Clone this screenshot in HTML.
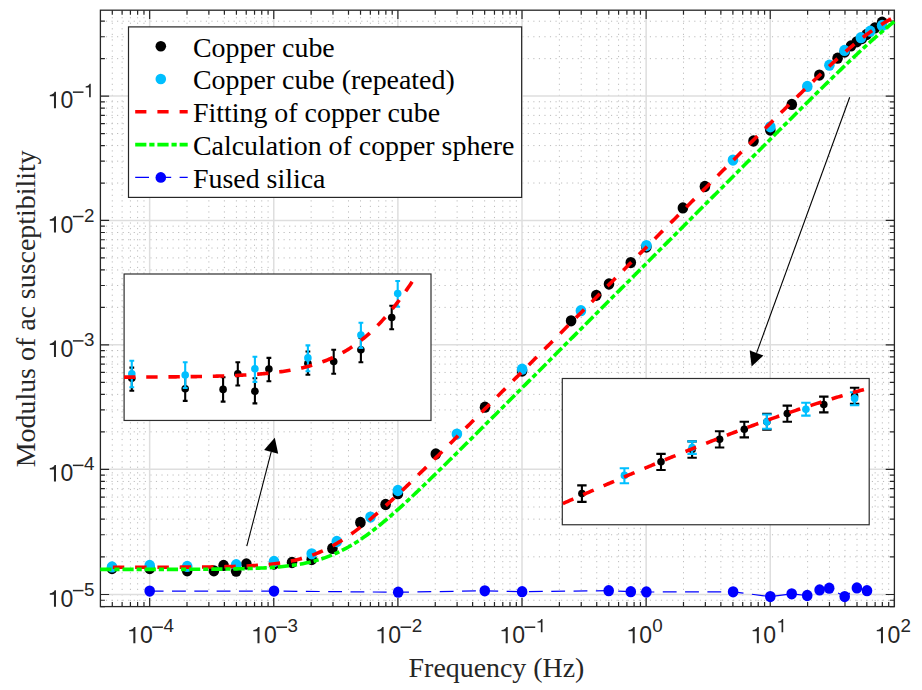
<!DOCTYPE html>
<html><head><meta charset="utf-8"><title>Modulus of ac susceptibility</title>
<style>html,body{margin:0;padding:0;background:#fff}svg{display:block}.sa{font-family:"Liberation Sans",sans-serif}.se{font-family:"Liberation Serif",serif}</style>
</head><body>
<svg width="922" height="690" viewBox="0 0 922 690">
<rect width="922" height="690" fill="#fff"/>
<path d="M112.29 606.60V10.20M122.11 606.60V10.20M130.42 606.60V10.20M137.62 606.60V10.20M143.97 606.60V10.20M187.01 606.60V10.20M208.87 606.60V10.20M224.38 606.60V10.20M236.41 606.60V10.20M246.23 606.60V10.20M254.54 606.60V10.20M261.74 606.60V10.20M268.09 606.60V10.20M311.13 606.60V10.20M332.99 606.60V10.20M348.50 606.60V10.20M360.53 606.60V10.20M370.35 606.60V10.20M378.66 606.60V10.20M385.86 606.60V10.20M392.21 606.60V10.20M435.25 606.60V10.20M457.11 606.60V10.20M472.62 606.60V10.20M484.65 606.60V10.20M494.47 606.60V10.20M502.78 606.60V10.20M509.98 606.60V10.20M516.33 606.60V10.20M559.37 606.60V10.20M581.23 606.60V10.20M596.74 606.60V10.20M608.77 606.60V10.20M618.59 606.60V10.20M626.90 606.60V10.20M634.10 606.60V10.20M640.45 606.60V10.20M683.49 606.60V10.20M705.35 606.60V10.20M720.86 606.60V10.20M732.89 606.60V10.20M742.71 606.60V10.20M751.02 606.60V10.20M758.22 606.60V10.20M764.57 606.60V10.20M807.61 606.60V10.20M829.47 606.60V10.20M844.98 606.60V10.20M857.01 606.60V10.20M866.83 606.60V10.20M875.14 606.60V10.20M882.34 606.60V10.20M888.69 606.60V10.20M100.40 600.25H894.40M100.40 556.83H894.40M100.40 534.77H894.40M100.40 519.13H894.40M100.40 506.99H894.40M100.40 497.08H894.40M100.40 488.70H894.40M100.40 481.44H894.40M100.40 475.03H894.40M100.40 431.83H894.40M100.40 409.91H894.40M100.40 394.36H894.40M100.40 382.30H894.40M100.40 372.44H894.40M100.40 364.11H894.40M100.40 356.89H894.40M100.40 350.53H894.40M100.40 307.39H894.40M100.40 285.50H894.40M100.40 269.96H894.40M100.40 257.91H894.40M100.40 248.06H894.40M100.40 239.73H894.40M100.40 232.52H894.40M100.40 226.16H894.40M100.40 183.03H894.40M100.40 161.13H894.40M100.40 145.59H894.40M100.40 133.53H894.40M100.40 123.68H894.40M100.40 115.36H894.40M100.40 108.14H894.40M100.40 101.78H894.40M100.40 58.65H894.40M100.40 36.75H894.40M100.40 21.21H894.40" stroke="#bababa" stroke-width="1" stroke-dasharray="1.15 4.4" fill="none"/>
<path d="M149.65 606.60V10.20M273.77 606.60V10.20M397.89 606.60V10.20M522.01 606.60V10.20M646.13 606.60V10.20M770.25 606.60V10.20M100.40 594.52H894.40M100.40 469.30H894.40M100.40 344.83H894.40M100.40 220.47H894.40M100.40 96.09H894.40" stroke="#dedede" stroke-width="1.5" fill="none"/>
<path d="M112.29 606.60v-4.5M112.29 10.20v4.5M122.11 606.60v-4.5M122.11 10.20v4.5M130.42 606.60v-4.5M130.42 10.20v4.5M137.62 606.60v-4.5M137.62 10.20v4.5M143.97 606.60v-4.5M143.97 10.20v4.5M149.65 606.60v-8.7M149.65 10.20v8.7M187.01 606.60v-4.5M187.01 10.20v4.5M208.87 606.60v-4.5M208.87 10.20v4.5M224.38 606.60v-4.5M224.38 10.20v4.5M236.41 606.60v-4.5M236.41 10.20v4.5M246.23 606.60v-4.5M246.23 10.20v4.5M254.54 606.60v-4.5M254.54 10.20v4.5M261.74 606.60v-4.5M261.74 10.20v4.5M268.09 606.60v-4.5M268.09 10.20v4.5M273.77 606.60v-8.7M273.77 10.20v8.7M311.13 606.60v-4.5M311.13 10.20v4.5M332.99 606.60v-4.5M332.99 10.20v4.5M348.50 606.60v-4.5M348.50 10.20v4.5M360.53 606.60v-4.5M360.53 10.20v4.5M370.35 606.60v-4.5M370.35 10.20v4.5M378.66 606.60v-4.5M378.66 10.20v4.5M385.86 606.60v-4.5M385.86 10.20v4.5M392.21 606.60v-4.5M392.21 10.20v4.5M397.89 606.60v-8.7M397.89 10.20v8.7M435.25 606.60v-4.5M435.25 10.20v4.5M457.11 606.60v-4.5M457.11 10.20v4.5M472.62 606.60v-4.5M472.62 10.20v4.5M484.65 606.60v-4.5M484.65 10.20v4.5M494.47 606.60v-4.5M494.47 10.20v4.5M502.78 606.60v-4.5M502.78 10.20v4.5M509.98 606.60v-4.5M509.98 10.20v4.5M516.33 606.60v-4.5M516.33 10.20v4.5M522.01 606.60v-8.7M522.01 10.20v8.7M559.37 606.60v-4.5M559.37 10.20v4.5M581.23 606.60v-4.5M581.23 10.20v4.5M596.74 606.60v-4.5M596.74 10.20v4.5M608.77 606.60v-4.5M608.77 10.20v4.5M618.59 606.60v-4.5M618.59 10.20v4.5M626.90 606.60v-4.5M626.90 10.20v4.5M634.10 606.60v-4.5M634.10 10.20v4.5M640.45 606.60v-4.5M640.45 10.20v4.5M646.13 606.60v-8.7M646.13 10.20v8.7M683.49 606.60v-4.5M683.49 10.20v4.5M705.35 606.60v-4.5M705.35 10.20v4.5M720.86 606.60v-4.5M720.86 10.20v4.5M732.89 606.60v-4.5M732.89 10.20v4.5M742.71 606.60v-4.5M742.71 10.20v4.5M751.02 606.60v-4.5M751.02 10.20v4.5M758.22 606.60v-4.5M758.22 10.20v4.5M764.57 606.60v-4.5M764.57 10.20v4.5M770.25 606.60v-8.7M770.25 10.20v8.7M807.61 606.60v-4.5M807.61 10.20v4.5M829.47 606.60v-4.5M829.47 10.20v4.5M844.98 606.60v-4.5M844.98 10.20v4.5M857.01 606.60v-4.5M857.01 10.20v4.5M866.83 606.60v-4.5M866.83 10.20v4.5M875.14 606.60v-4.5M875.14 10.20v4.5M882.34 606.60v-4.5M882.34 10.20v4.5M888.69 606.60v-4.5M888.69 10.20v4.5M894.37 606.60v-8.7M894.37 10.20v8.7M100.40 606.66h4.5M894.40 606.66h-4.5M100.40 600.25h4.5M894.40 600.25h-4.5M100.40 594.52h8.7M894.40 594.52h-8.7M100.40 556.83h4.5M894.40 556.83h-4.5M100.40 534.77h4.5M894.40 534.77h-4.5M100.40 519.13h4.5M894.40 519.13h-4.5M100.40 506.99h4.5M894.40 506.99h-4.5M100.40 497.08h4.5M894.40 497.08h-4.5M100.40 488.70h4.5M894.40 488.70h-4.5M100.40 481.44h4.5M894.40 481.44h-4.5M100.40 475.03h4.5M894.40 475.03h-4.5M100.40 469.30h8.7M894.40 469.30h-8.7M100.40 431.83h4.5M894.40 431.83h-4.5M100.40 409.91h4.5M894.40 409.91h-4.5M100.40 394.36h4.5M894.40 394.36h-4.5M100.40 382.30h4.5M894.40 382.30h-4.5M100.40 372.44h4.5M894.40 372.44h-4.5M100.40 364.11h4.5M894.40 364.11h-4.5M100.40 356.89h4.5M894.40 356.89h-4.5M100.40 350.53h4.5M894.40 350.53h-4.5M100.40 344.83h8.7M894.40 344.83h-8.7M100.40 307.39h4.5M894.40 307.39h-4.5M100.40 285.50h4.5M894.40 285.50h-4.5M100.40 269.96h4.5M894.40 269.96h-4.5M100.40 257.91h4.5M894.40 257.91h-4.5M100.40 248.06h4.5M894.40 248.06h-4.5M100.40 239.73h4.5M894.40 239.73h-4.5M100.40 232.52h4.5M894.40 232.52h-4.5M100.40 226.16h4.5M894.40 226.16h-4.5M100.40 220.47h8.7M894.40 220.47h-8.7M100.40 183.03h4.5M894.40 183.03h-4.5M100.40 161.13h4.5M894.40 161.13h-4.5M100.40 145.59h4.5M894.40 145.59h-4.5M100.40 133.53h4.5M894.40 133.53h-4.5M100.40 123.68h4.5M894.40 123.68h-4.5M100.40 115.36h4.5M894.40 115.36h-4.5M100.40 108.14h4.5M894.40 108.14h-4.5M100.40 101.78h4.5M894.40 101.78h-4.5M100.40 96.09h8.7M894.40 96.09h-8.7M100.40 58.65h4.5M894.40 58.65h-4.5M100.40 36.75h4.5M894.40 36.75h-4.5M100.40 21.21h4.5M894.40 21.21h-4.5" stroke="#262626" stroke-width="1.2" fill="none"/>
<rect x="100.4" y="10.2" width="794.00" height="596.40" fill="none" stroke="#262626" stroke-width="1.3"/>
<path d="M133.35 643.30L133.35 631.34L129.19 631.34L129.19 629.96C131.83 629.73 133.44 628.58 133.97 626.92L135.37 626.92L135.37 643.30Z" fill="#262626"/><text x="139.91" y="643.30" class="sa" font-size="23.0" fill="#262626">0</text><rect x="152.29" y="626.47" width="10.6" height="1.5" fill="#262626"/><text x="163.39" y="632.30" class="sa" font-size="18.8" fill="#262626">4</text>
<path d="M257.47 643.30L257.47 631.34L253.31 631.34L253.31 629.96C255.95 629.73 257.56 628.58 258.09 626.92L259.49 626.92L259.49 643.30Z" fill="#262626"/><text x="264.02" y="643.30" class="sa" font-size="23.0" fill="#262626">0</text><rect x="276.41" y="626.47" width="10.6" height="1.5" fill="#262626"/><text x="287.51" y="632.30" class="sa" font-size="18.8" fill="#262626">3</text>
<path d="M381.59 643.30L381.59 631.34L377.43 631.34L377.43 629.96C380.07 629.73 381.68 628.58 382.21 626.92L383.61 626.92L383.61 643.30Z" fill="#262626"/><text x="388.14" y="643.30" class="sa" font-size="23.0" fill="#262626">0</text><rect x="400.53" y="626.47" width="10.6" height="1.5" fill="#262626"/><text x="411.63" y="632.30" class="sa" font-size="18.8" fill="#262626">2</text>
<path d="M505.71 643.30L505.71 631.34L501.55 631.34L501.55 629.96C504.19 629.73 505.80 628.58 506.33 626.92L507.73 626.92L507.73 643.30Z" fill="#262626"/><text x="512.26" y="643.30" class="sa" font-size="23.0" fill="#262626">0</text><rect x="524.65" y="626.47" width="10.6" height="1.5" fill="#262626"/><path d="M540.85 632.30L540.85 622.52L537.45 622.52L537.45 621.40C539.61 621.21 540.92 620.27 541.36 618.91L542.50 618.91L542.50 632.30Z" fill="#262626"/>
<path d="M632.70 643.30L632.70 631.34L628.54 631.34L628.54 629.96C631.18 629.73 632.79 628.58 633.32 626.92L634.72 626.92L634.72 643.30Z" fill="#262626"/><text x="639.25" y="643.30" class="sa" font-size="23.0" fill="#262626">0</text><text x="652.34" y="632.30" class="sa" font-size="18.8" fill="#262626">0</text>
<path d="M756.82 643.30L756.82 631.34L752.66 631.34L752.66 629.96C755.30 629.73 756.91 628.58 757.44 626.92L758.84 626.92L758.84 643.30Z" fill="#262626"/><text x="763.37" y="643.30" class="sa" font-size="23.0" fill="#262626">0</text><path d="M781.56 632.30L781.56 622.52L778.15 622.52L778.15 621.40C780.32 621.21 781.63 620.27 782.06 618.91L783.21 618.91L783.21 632.30Z" fill="#262626"/>
<path d="M880.94 643.30L880.94 631.34L876.78 631.34L876.78 629.96C879.42 629.73 881.03 628.58 881.56 626.92L882.96 626.92L882.96 643.30Z" fill="#262626"/><text x="887.49" y="643.30" class="sa" font-size="23.0" fill="#262626">0</text><text x="900.58" y="632.30" class="sa" font-size="18.8" fill="#262626">2</text>
<path d="M53.96 606.67L53.96 594.71L49.79 594.71L49.79 593.33C52.44 593.10 54.05 591.95 54.58 590.29L55.98 590.29L55.98 606.67Z" fill="#262626"/><text x="60.51" y="606.67" class="sa" font-size="23.0" fill="#262626">0</text><rect x="72.90" y="589.84" width="10.6" height="1.5" fill="#262626"/><text x="84.00" y="595.67" class="sa" font-size="18.8" fill="#262626">5</text>
<path d="M53.96 481.45L53.96 469.49L49.79 469.49L49.79 468.11C52.44 467.88 54.05 466.73 54.58 465.07L55.98 465.07L55.98 481.45Z" fill="#262626"/><text x="60.51" y="481.45" class="sa" font-size="23.0" fill="#262626">0</text><rect x="72.90" y="464.62" width="10.6" height="1.5" fill="#262626"/><text x="84.00" y="470.45" class="sa" font-size="18.8" fill="#262626">4</text>
<path d="M53.96 356.98L53.96 345.02L49.79 345.02L49.79 343.64C52.44 343.41 54.05 342.26 54.58 340.60L55.98 340.60L55.98 356.98Z" fill="#262626"/><text x="60.51" y="356.98" class="sa" font-size="23.0" fill="#262626">0</text><rect x="72.90" y="340.15" width="10.6" height="1.5" fill="#262626"/><text x="84.00" y="345.98" class="sa" font-size="18.8" fill="#262626">3</text>
<path d="M53.96 232.62L53.96 220.66L49.79 220.66L49.79 219.28C52.44 219.05 54.05 217.90 54.58 216.24L55.98 216.24L55.98 232.62Z" fill="#262626"/><text x="60.51" y="232.62" class="sa" font-size="23.0" fill="#262626">0</text><rect x="72.90" y="215.79" width="10.6" height="1.5" fill="#262626"/><text x="84.00" y="221.62" class="sa" font-size="18.8" fill="#262626">2</text>
<path d="M53.96 108.24L53.96 96.28L49.79 96.28L49.79 94.90C52.44 94.67 54.05 93.52 54.58 91.86L55.98 91.86L55.98 108.24Z" fill="#262626"/><text x="60.51" y="108.24" class="sa" font-size="23.0" fill="#262626">0</text><rect x="72.90" y="91.41" width="10.6" height="1.5" fill="#262626"/><path d="M89.09 97.24L89.09 87.46L85.69 87.46L85.69 86.34C87.85 86.15 89.17 85.21 89.60 83.85L90.75 83.85L90.75 97.24Z" fill="#262626"/>
<text x="496.5" y="676.5" text-anchor="middle" class="se" font-size="27.9" fill="#262626">Frequency (Hz)</text>
<text transform="translate(34.7 308.8) rotate(-90)" text-anchor="middle" class="se" font-size="27.9" fill="#262626">Modulus of ac susceptibility</text>
<g>
<ellipse cx="112" cy="568.5" rx="5.3" ry="5.65" fill="#000"/>
<ellipse cx="149.7" cy="568.5" rx="5.3" ry="5.65" fill="#000"/>
<ellipse cx="187.2" cy="570.8" rx="5.3" ry="5.65" fill="#000"/>
<ellipse cx="213.9" cy="570.8" rx="5.3" ry="5.65" fill="#000"/>
<ellipse cx="223.6" cy="565.4" rx="5.3" ry="5.65" fill="#000"/>
<ellipse cx="236.2" cy="571.2" rx="5.3" ry="5.65" fill="#000"/>
<ellipse cx="246.4" cy="564" rx="5.3" ry="5.65" fill="#000"/>
<ellipse cx="274" cy="564" rx="5.3" ry="5.65" fill="#000"/>
<ellipse cx="292" cy="562.5" rx="5.3" ry="5.65" fill="#000"/>
<ellipse cx="311.7" cy="559.5" rx="5.3" ry="5.65" fill="#000"/>
<ellipse cx="332.4" cy="548.4" rx="5.3" ry="5.65" fill="#000"/>
<ellipse cx="360.4" cy="522.5" rx="5.3" ry="5.65" fill="#000"/>
<ellipse cx="385.6" cy="504.5" rx="5.3" ry="5.65" fill="#000"/>
<ellipse cx="397.9" cy="493.7" rx="5.3" ry="5.65" fill="#000"/>
<ellipse cx="435.8" cy="454" rx="5.3" ry="5.65" fill="#000"/>
<ellipse cx="485" cy="407.2" rx="5.3" ry="5.65" fill="#000"/>
<ellipse cx="522.1" cy="371" rx="5.3" ry="5.65" fill="#000"/>
<ellipse cx="571.1" cy="320.8" rx="5.3" ry="5.65" fill="#000"/>
<ellipse cx="596.3" cy="295.3" rx="5.3" ry="5.65" fill="#000"/>
<ellipse cx="609" cy="284" rx="5.3" ry="5.65" fill="#000"/>
<ellipse cx="630.8" cy="262.6" rx="5.3" ry="5.65" fill="#000"/>
<ellipse cx="646.4" cy="247" rx="5.3" ry="5.65" fill="#000"/>
<ellipse cx="682.9" cy="207.9" rx="5.3" ry="5.65" fill="#000"/>
<ellipse cx="704.9" cy="186.5" rx="5.3" ry="5.65" fill="#000"/>
<ellipse cx="753.5" cy="141" rx="5.3" ry="5.65" fill="#000"/>
<ellipse cx="770.3" cy="130" rx="5.3" ry="5.65" fill="#000"/>
<ellipse cx="791.8" cy="104.4" rx="5.3" ry="5.65" fill="#000"/>
<ellipse cx="819.4" cy="75.1" rx="5.3" ry="5.65" fill="#000"/>
<ellipse cx="837.6" cy="58.2" rx="5.3" ry="5.65" fill="#000"/>
<ellipse cx="844.7" cy="52" rx="5.3" ry="5.65" fill="#000"/>
<ellipse cx="851" cy="45.9" rx="5.3" ry="5.65" fill="#000"/>
<ellipse cx="856.8" cy="41.8" rx="5.3" ry="5.65" fill="#000"/>
<ellipse cx="861.9" cy="38.5" rx="5.3" ry="5.65" fill="#000"/>
<ellipse cx="866.6" cy="34.5" rx="5.3" ry="5.65" fill="#000"/>
<ellipse cx="874.8" cy="27.9" rx="5.3" ry="5.65" fill="#000"/>
<ellipse cx="882.1" cy="22.2" rx="5.3" ry="5.65" fill="#000"/>
<ellipse cx="112" cy="566.9" rx="5.3" ry="5.65" fill="#00bfff"/>
<ellipse cx="149.7" cy="565.4" rx="5.3" ry="5.65" fill="#00bfff"/>
<ellipse cx="187.2" cy="566.4" rx="5.3" ry="5.65" fill="#00bfff"/>
<ellipse cx="236.2" cy="564.7" rx="5.3" ry="5.65" fill="#00bfff"/>
<ellipse cx="274" cy="561.5" rx="5.3" ry="5.65" fill="#00bfff"/>
<ellipse cx="311.7" cy="553.8" rx="5.3" ry="5.65" fill="#00bfff"/>
<ellipse cx="336.8" cy="541.5" rx="5.3" ry="5.65" fill="#00bfff"/>
<ellipse cx="370.5" cy="517.1" rx="5.3" ry="5.65" fill="#00bfff"/>
<ellipse cx="397.9" cy="490.5" rx="5.3" ry="5.65" fill="#00bfff"/>
<ellipse cx="456.9" cy="434.1" rx="5.3" ry="5.65" fill="#00bfff"/>
<ellipse cx="522.1" cy="369.2" rx="5.3" ry="5.65" fill="#00bfff"/>
<ellipse cx="580.9" cy="310.7" rx="5.3" ry="5.65" fill="#00bfff"/>
<ellipse cx="646.4" cy="245.6" rx="5.3" ry="5.65" fill="#00bfff"/>
<ellipse cx="733" cy="160.1" rx="5.3" ry="5.65" fill="#00bfff"/>
<ellipse cx="770.3" cy="126.8" rx="5.3" ry="5.65" fill="#00bfff"/>
<ellipse cx="807.3" cy="86.4" rx="5.3" ry="5.65" fill="#00bfff"/>
<ellipse cx="829.4" cy="65.2" rx="5.3" ry="5.65" fill="#00bfff"/>
<ellipse cx="844.5" cy="50.4" rx="5.3" ry="5.65" fill="#00bfff"/>
<ellipse cx="860.9" cy="37.7" rx="5.3" ry="5.65" fill="#00bfff"/>
<ellipse cx="870.2" cy="31.2" rx="5.3" ry="5.65" fill="#00bfff"/>
<ellipse cx="882.1" cy="25.5" rx="5.3" ry="5.65" fill="#00bfff"/>
</g>
<path d="M112.82 567.28L114.77 567.28L116.72 567.28L118.67 567.28L120.62 567.27L122.57 567.27L124.52 567.27L126.47 567.27L128.42 567.27L130.37 567.27L132.32 567.27L134.27 567.27L136.22 567.26L138.17 567.26L140.12 567.26L142.07 567.26L144.02 567.26L145.97 567.25L147.92 567.25L149.87 567.25L151.82 567.25L153.77 567.24L155.72 567.24L157.67 567.24L159.62 567.23L161.57 567.23L163.52 567.23L165.47 567.22L167.42 567.22L169.37 567.21L171.32 567.20L173.27 567.20L175.21 567.19L177.16 567.18L179.11 567.18L181.06 567.17L183.01 567.16L184.96 567.15L186.91 567.14L188.86 567.13L190.81 567.12L192.76 567.11L194.71 567.09L196.66 567.08L198.61 567.06L200.56 567.04L202.51 567.03L204.46 567.01L206.41 566.99L208.36 566.96L210.31 566.94L212.26 566.91L214.21 566.89L216.16 566.86L218.11 566.82L220.06 566.79L222.01 566.75L223.96 566.71L225.91 566.67L227.86 566.62L229.81 566.58L231.76 566.52L233.71 566.47L235.66 566.41L237.61 566.34L239.56 566.27L241.51 566.20L243.46 566.12L245.41 566.03L247.36 565.94L249.31 565.84L251.26 565.74L253.21 565.62L255.16 565.50L257.11 565.37L259.05 565.23L261.00 565.09L262.95 564.93L264.90 564.76L266.85 564.58L268.80 564.39L270.75 564.18L272.70 563.96L274.65 563.73L276.60 563.48L278.55 563.21L280.50 562.93L282.45 562.63L284.40 562.31L286.35 561.97L288.30 561.61L290.25 561.23L292.20 560.83L294.15 560.40L296.10 559.95L298.05 559.47L300.00 558.96L301.95 558.43L303.90 557.87L305.85 557.28L307.80 556.66L309.75 556.01L311.70 555.32L313.65 554.60L315.60 553.85L317.55 553.07L319.50 552.25L321.45 551.40L323.40 550.51L325.35 549.59L327.30 548.63L329.25 547.63L331.20 546.60L333.15 545.54L335.10 544.44L337.05 543.30L339.00 542.13L340.94 540.93L342.89 539.69L344.84 538.42L346.79 537.12L348.74 535.78L350.69 534.42L352.64 533.03L354.59 531.60L356.54 530.15L358.49 528.67L360.44 527.17L362.39 525.64L364.34 524.08L366.29 522.51L368.24 520.91L370.19 519.29L372.14 517.65L374.09 515.99L376.04 514.31L377.99 512.62L379.94 510.90L381.89 509.18L383.84 507.43L385.79 505.68L387.74 503.91L389.69 502.13L391.64 500.33L393.59 498.53L395.54 496.71L397.49 494.89L399.44 493.05L401.39 491.21L403.34 489.36L405.29 487.50L407.24 485.63L409.19 483.76L411.14 481.88L413.09 480.00L415.04 478.11L416.99 476.21L418.94 474.31L420.89 472.41L422.83 470.50L424.78 468.59L426.73 466.68L428.68 464.78L430.63 462.86L432.58 460.95L434.53 459.03L436.48 457.11L438.43 455.19L440.38 453.26L442.33 451.34L444.28 449.41L446.23 447.48L448.18 445.55L450.13 443.61L452.08 441.68L454.03 439.74L455.98 437.80L457.93 435.86L459.88 433.92L461.83 431.98L463.78 430.04L465.73 428.09L467.68 426.15L469.63 424.21L471.58 422.26L473.53 420.31L475.48 418.37L477.43 416.42L479.38 414.47L481.33 412.52L483.28 410.57L485.23 408.62L487.18 406.67L489.13 404.72L491.08 402.77L493.03 400.82L494.98 398.87L496.93 396.92L498.88 394.97L500.83 393.02L502.78 391.06L504.73 389.11L506.67 387.16L508.62 385.21L510.57 383.25L512.52 381.30L514.47 379.35L516.42 377.39L518.37 375.44L520.32 373.49L522.27 371.53L524.22 369.58L526.17 367.63L528.12 365.67L530.07 363.72L532.02 361.76L533.97 359.81L535.92 357.85L537.87 355.90L539.82 353.95L541.77 351.99L543.72 350.04L545.67 348.08L547.62 346.13L549.57 344.17L551.52 342.22L553.47 340.27L555.42 338.31L557.37 336.36L559.32 334.41L561.27 332.45L563.22 330.50L565.17 328.55L567.12 326.59L569.07 324.64L571.02 322.69L572.97 320.73L574.92 318.78L576.87 316.83L578.82 314.87L580.77 312.92L582.72 310.97L584.67 309.01L586.62 307.06L588.56 305.11L590.51 303.15L592.46 301.20L594.41 299.25L596.36 297.29L598.31 295.34L600.26 293.39L602.21 291.43L604.16 289.48L606.11 287.53L608.06 285.57L610.01 283.62L611.96 281.67L613.91 279.71L615.86 277.76L617.81 275.81L619.76 273.85L621.71 271.90L623.66 269.95L625.61 267.99L627.56 266.04L629.51 264.09L631.46 262.13L633.41 260.18L635.36 258.23L637.31 256.27L639.26 254.32L641.21 252.37L643.16 250.41L645.11 248.46L647.06 246.51L649.01 244.55L650.96 242.60L652.91 240.65L654.86 238.69L656.81 236.74L658.76 234.79L660.71 232.83L662.66 230.88L664.61 228.93L666.56 226.97L668.51 225.02L670.46 223.07L672.40 221.11L674.35 219.16L676.30 217.21L678.25 215.25L680.20 213.30L682.15 211.35L684.10 209.39L686.05 207.44L688.00 205.49L689.95 203.54L691.90 201.58L693.85 199.63L695.80 197.68L697.75 195.73L699.70 193.77L701.65 191.82L703.60 189.87L705.55 187.92L707.50 185.96L709.45 184.01L711.40 182.06L713.35 180.11L715.30 178.16L717.25 176.21L719.20 174.25L721.15 172.30L723.10 170.35L725.05 168.40L727.00 166.45L728.95 164.50L730.90 162.55L732.85 160.60L734.80 158.65L736.75 156.71L738.70 154.76L740.65 152.81L742.60 150.86L744.55 148.92L746.50 146.97L748.45 145.02L750.40 143.08L752.35 141.14L754.29 139.19L756.24 137.25L758.19 135.31L760.14 133.37L762.09 131.43L764.04 129.49L765.99 127.55L767.94 125.61L769.89 123.67L771.84 121.74L773.79 119.81L775.74 117.88L777.69 115.95L779.64 114.02L781.59 112.09L783.54 110.17L785.49 108.25L787.44 106.33L789.39 104.41L791.34 102.50L793.29 100.58L795.24 98.68L797.19 96.77L799.14 94.87L801.09 92.97L803.04 91.08L804.99 89.19L806.94 87.31L808.89 85.43L810.84 83.55L812.79 81.68L814.74 79.82L816.69 77.97L818.64 76.12L820.59 74.28L822.54 72.44L824.49 70.62L826.44 68.80L828.39 67.00L830.34 65.20L832.29 63.42L834.24 61.64L836.18 59.88L838.13 58.13L840.08 56.40L842.03 54.68L843.98 52.97L845.93 51.28L847.88 49.61L849.83 47.96L851.78 46.32L853.73 44.70L855.68 43.11L857.63 41.54L859.58 39.99L861.53 38.46L863.48 36.96L865.43 35.48L867.38 34.03L869.33 32.61L871.28 31.21L873.23 29.85L875.18 28.51L877.13 27.21L879.08 25.94L881.03 24.70L882.98 23.49L884.93 22.32L886.88 21.18L888.83 20.08L890.78 19.01L892.73 17.97" fill="none" stroke="#ff0000" stroke-width="3.6" stroke-dasharray="11.45 10.84"/>
<path d="M100.26 569.40L102.24 569.40L104.23 569.40L106.21 569.40L108.20 569.40L110.18 569.40L112.17 569.40L114.15 569.40L116.14 569.40L118.13 569.40L120.11 569.40L122.10 569.40L124.08 569.40L126.07 569.39L128.05 569.39L130.04 569.39L132.02 569.39L134.01 569.39L135.99 569.39L137.98 569.39L139.96 569.39L141.95 569.39L143.93 569.39L145.92 569.38L147.90 569.38L149.89 569.38L151.87 569.38L153.86 569.38L155.85 569.38L157.83 569.37L159.82 569.37L161.80 569.37L163.79 569.37L165.77 569.36L167.76 569.36L169.74 569.36L171.73 569.35L173.71 569.35L175.70 569.35L177.68 569.34L179.67 569.34L181.65 569.33L183.64 569.33L185.62 569.32L187.61 569.31L189.60 569.31L191.58 569.30L193.57 569.29L195.55 569.28L197.54 569.27L199.52 569.27L201.51 569.25L203.49 569.24L205.48 569.23L207.46 569.22L209.45 569.20L211.43 569.19L213.42 569.17L215.40 569.15L217.39 569.14L219.37 569.11L221.36 569.09L223.35 569.07L225.33 569.04L227.32 569.02L229.30 568.99L231.29 568.96L233.27 568.92L235.26 568.88L237.24 568.85L239.23 568.80L241.21 568.76L243.20 568.71L245.18 568.66L247.17 568.60L249.15 568.54L251.14 568.48L253.12 568.41L255.11 568.33L257.09 568.25L259.08 568.16L261.07 568.07L263.05 567.97L265.04 567.87L267.02 567.75L269.01 567.63L270.99 567.50L272.98 567.36L274.96 567.21L276.95 567.05L278.93 566.88L280.92 566.69L282.90 566.50L284.89 566.29L286.87 566.06L288.86 565.82L290.84 565.57L292.83 565.30L294.82 565.01L296.80 564.70L298.79 564.37L300.77 564.02L302.76 563.65L304.74 563.26L306.73 562.84L308.71 562.40L310.70 561.93L312.68 561.43L314.67 560.91L316.65 560.36L318.64 559.78L320.62 559.16L322.61 558.52L324.59 557.84L326.58 557.13L328.56 556.39L330.55 555.61L332.54 554.79L334.52 553.94L336.51 553.05L338.49 552.13L340.48 551.17L342.46 550.17L344.45 549.14L346.43 548.07L348.42 546.96L350.40 545.82L352.39 544.64L354.37 543.42L356.36 542.17L358.34 540.89L360.33 539.57L362.31 538.22L364.30 536.84L366.29 535.43L368.27 533.98L370.26 532.51L372.24 531.01L374.23 529.48L376.21 527.93L378.20 526.35L380.18 524.74L382.17 523.12L384.15 521.47L386.14 519.80L388.12 518.11L390.11 516.40L392.09 514.67L394.08 512.93L396.06 511.17L398.05 509.39L400.04 507.60L402.02 505.80L404.01 503.98L405.99 502.16L407.98 500.32L409.96 498.47L411.95 496.61L413.93 494.74L415.92 492.86L417.90 490.97L419.89 489.08L421.87 487.17L423.86 485.27L425.84 483.35L427.83 481.43L429.81 479.50L431.80 477.57L433.78 475.63L435.77 473.69L437.76 471.75L439.74 469.80L441.73 467.85L443.71 465.91L445.70 463.96L447.68 462.01L449.67 460.05L451.65 458.10L453.64 456.14L455.62 454.18L457.61 452.21L459.59 450.25L461.58 448.28L463.56 446.31L465.55 444.34L467.53 442.37L469.52 440.40L471.51 438.42L473.49 436.45L475.48 434.47L477.46 432.49L479.45 430.52L481.43 428.54L483.42 426.56L485.40 424.58L487.39 422.59L489.37 420.61L491.36 418.63L493.34 416.64L495.33 414.66L497.31 412.68L499.30 410.69L501.28 408.71L503.27 406.72L505.25 404.73L507.24 402.75L509.23 400.76L511.21 398.77L513.20 396.79L515.18 394.80L517.17 392.81L519.15 390.82L521.14 388.84L523.12 386.85L525.11 384.86L527.09 382.87L529.08 380.88L531.06 378.89L533.05 376.90L535.03 374.91L537.02 372.92L539.00 370.93L540.99 368.94L542.98 366.95L544.96 364.97L546.95 362.98L548.93 360.99L550.92 359.00L552.90 357.01L554.89 355.02L556.87 353.02L558.86 351.03L560.84 349.04L562.83 347.05L564.81 345.06L566.80 343.07L568.78 341.09L570.77 339.10L572.75 337.11L574.74 335.12L576.73 333.13L578.71 331.14L580.70 329.15L582.68 327.16L584.67 325.18L586.65 323.19L588.64 321.20L590.62 319.21L592.61 317.22L594.59 315.23L596.58 313.24L598.56 311.25L600.55 309.26L602.53 307.28L604.52 305.29L606.50 303.30L608.49 301.31L610.47 299.32L612.46 297.33L614.45 295.34L616.43 293.35L618.42 291.36L620.40 289.37L622.39 287.39L624.37 285.40L626.36 283.41L628.34 281.42L630.33 279.43L632.31 277.44L634.30 275.45L636.28 273.46L638.27 271.47L640.25 269.48L642.24 267.49L644.22 265.51L646.21 263.52L648.20 261.53L650.18 259.54L652.17 257.55L654.15 255.56L656.14 253.57L658.12 251.58L660.11 249.59L662.09 247.60L664.08 245.62L666.06 243.63L668.05 241.64L670.03 239.65L672.02 237.66L674.00 235.67L675.99 233.68L677.97 231.69L679.96 229.70L681.94 227.72L683.93 225.73L685.92 223.74L687.90 221.75L689.89 219.76L691.87 217.77L693.86 215.78L695.84 213.79L697.83 211.80L699.81 209.81L701.80 207.83L703.78 205.84L705.77 203.85L707.75 201.86L709.74 199.87L711.72 197.88L713.71 195.89L715.69 193.90L717.68 191.91L719.67 189.93L721.65 187.94L723.64 185.95L725.62 183.96L727.61 181.97L729.59 179.98L731.58 178.00L733.56 176.01L735.55 174.02L737.53 172.03L739.52 170.04L741.50 168.06L743.49 166.07L745.47 164.08L747.46 162.09L749.44 160.11L751.43 158.12L753.42 156.13L755.40 154.15L757.39 152.16L759.37 150.18L761.36 148.19L763.34 146.21L765.33 144.22L767.31 142.24L769.30 140.25L771.28 138.27L773.27 136.28L775.25 134.30L777.24 132.32L779.22 130.34L781.21 128.36L783.19 126.38L785.18 124.40L787.16 122.42L789.15 120.44L791.14 118.46L793.12 116.48L795.11 114.51L797.09 112.53L799.08 110.56L801.06 108.59L803.05 106.61L805.03 104.64L807.02 102.68L809.00 100.71L810.99 98.74L812.97 96.78L814.96 94.82L816.94 92.86L818.93 90.90L820.91 88.95L822.90 87.00L824.89 85.05L826.87 83.10L828.86 81.16L830.84 79.22L832.83 77.28L834.81 75.35L836.80 73.43L838.78 71.50L840.77 69.58L842.75 67.67L844.74 65.76L846.72 63.86L848.71 61.97L850.69 60.08L852.68 58.20L854.66 56.33L856.65 54.47L858.63 52.61L860.62 50.76L862.61 48.93L864.59 47.10L866.58 45.29L868.56 43.49L870.55 41.70L872.53 39.93L874.52 38.17L876.50 36.42L878.49 34.70L880.47 32.99L882.46 31.29L884.44 29.62L886.43 27.97L888.41 26.33L890.40 24.72L892.38 23.14L894.37 21.57" fill="none" stroke="#00ff00" stroke-width="3.6" stroke-dasharray="11.2 2.9 5.2 2.9"/>
<path d="M149.7 591.1L274 591.1L398.2 592.1999999999999L484.8 590.8L522.1 591.6999999999999L608.7 590.6999999999999L630.8 591.6999999999999L646.4 592.0L733.1 591.8L770.3 596.6L791.7 593.8L807.2 595.5L819.6 589.9L829.2 588.1999999999999L844.7 596.6L856.9 587.9L867 590.6999999999999" fill="none" stroke="#0000ff" stroke-width="1.2" stroke-dasharray="13.85 8.46"/>
<ellipse cx="149.7" cy="591.1" rx="5.3" ry="5.65" fill="#0000ff"/>
<ellipse cx="274" cy="591.1" rx="5.3" ry="5.65" fill="#0000ff"/>
<ellipse cx="398.2" cy="592.1999999999999" rx="5.3" ry="5.65" fill="#0000ff"/>
<ellipse cx="484.8" cy="590.8" rx="5.3" ry="5.65" fill="#0000ff"/>
<ellipse cx="522.1" cy="591.6999999999999" rx="5.3" ry="5.65" fill="#0000ff"/>
<ellipse cx="608.7" cy="590.6999999999999" rx="5.3" ry="5.65" fill="#0000ff"/>
<ellipse cx="630.8" cy="591.6999999999999" rx="5.3" ry="5.65" fill="#0000ff"/>
<ellipse cx="646.4" cy="592.0" rx="5.3" ry="5.65" fill="#0000ff"/>
<ellipse cx="733.1" cy="591.8" rx="5.3" ry="5.65" fill="#0000ff"/>
<ellipse cx="770.3" cy="596.6" rx="5.3" ry="5.65" fill="#0000ff"/>
<ellipse cx="791.7" cy="593.8" rx="5.3" ry="5.65" fill="#0000ff"/>
<ellipse cx="807.2" cy="595.5" rx="5.3" ry="5.65" fill="#0000ff"/>
<ellipse cx="819.6" cy="589.9" rx="5.3" ry="5.65" fill="#0000ff"/>
<ellipse cx="829.2" cy="588.1999999999999" rx="5.3" ry="5.65" fill="#0000ff"/>
<ellipse cx="844.7" cy="596.6" rx="5.3" ry="5.65" fill="#0000ff"/>
<ellipse cx="856.9" cy="587.9" rx="5.3" ry="5.65" fill="#0000ff"/>
<ellipse cx="867" cy="590.6999999999999" rx="5.3" ry="5.65" fill="#0000ff"/>
<path d="M246.8 546.2L271.2 451.8" stroke="#000" stroke-width="1.1" fill="none"/><path d="M274.8 437.8L278.2 453.7L264.1 450.0Z" fill="#000"/>
<path d="M849.7 97.2L756.6 352.9" stroke="#000" stroke-width="1.1" fill="none"/><path d="M751.6 366.5L749.7 350.4L763.4 355.4Z" fill="#000"/>
<rect x="124.1" y="274.0" width="306.90" height="146.45" fill="#fff" stroke="#2e2e2e" stroke-width="1.2"/>
<path d="M131.8 367.6V390.8M129.4 367.6h4.8M129.4 390.8h4.8" stroke="#000" stroke-width="2.1" fill="none"/>
<circle cx="131.8" cy="378.3" r="3.8" fill="#000"/>
<path d="M185.2 376.5V400.9M182.79999999999998 376.5h4.8M182.79999999999998 400.9h4.8" stroke="#000" stroke-width="2.1" fill="none"/>
<circle cx="185.2" cy="388.7" r="3.8" fill="#000"/>
<path d="M223.1 377.2V401.6M220.7 377.2h4.8M220.7 401.6h4.8" stroke="#000" stroke-width="2.1" fill="none"/>
<circle cx="223.1" cy="389.4" r="3.8" fill="#000"/>
<path d="M237.8 362.2V385.5M235.4 362.2h4.8M235.4 385.5h4.8" stroke="#000" stroke-width="2.1" fill="none"/>
<circle cx="237.8" cy="373.7" r="3.8" fill="#000"/>
<path d="M254.9 378.3V403.4M252.5 378.3h4.8M252.5 403.4h4.8" stroke="#000" stroke-width="2.1" fill="none"/>
<circle cx="254.9" cy="391.2" r="3.8" fill="#000"/>
<path d="M268.9 357.9V381.2M266.5 357.9h4.8M266.5 381.2h4.8" stroke="#000" stroke-width="2.1" fill="none"/>
<circle cx="268.9" cy="369" r="3.8" fill="#000"/>
<path d="M307.9 351.5V374.7M305.5 351.5h4.8M305.5 374.7h4.8" stroke="#000" stroke-width="2.1" fill="none"/>
<circle cx="307.9" cy="363.3" r="3.8" fill="#000"/>
<path d="M333.7 349.7V373.7M331.3 349.7h4.8M331.3 373.7h4.8" stroke="#000" stroke-width="2.1" fill="none"/>
<circle cx="333.7" cy="361.5" r="3.8" fill="#000"/>
<path d="M360.9 337.9V362.2M358.5 337.9h4.8M358.5 362.2h4.8" stroke="#000" stroke-width="2.1" fill="none"/>
<circle cx="360.9" cy="349.7" r="3.8" fill="#000"/>
<path d="M391.7 305.7V329.3M389.3 305.7h4.8M389.3 329.3h4.8" stroke="#000" stroke-width="2.1" fill="none"/>
<circle cx="391.7" cy="317.5" r="3.8" fill="#000"/>
<path d="M131.8 360.8V387.3M129.4 360.8h4.8M129.4 387.3h4.8" stroke="#00bfff" stroke-width="2.1" fill="none"/>
<circle cx="131.8" cy="373.7" r="3.8" fill="#00bfff"/>
<path d="M185.2 362.2V388M182.79999999999998 362.2h4.8M182.79999999999998 388h4.8" stroke="#00bfff" stroke-width="2.1" fill="none"/>
<circle cx="185.2" cy="375.1" r="3.8" fill="#00bfff"/>
<path d="M254.9 356.8V381.9M252.5 356.8h4.8M252.5 381.9h4.8" stroke="#00bfff" stroke-width="2.1" fill="none"/>
<circle cx="254.9" cy="368.7" r="3.8" fill="#00bfff"/>
<path d="M307.9 345.4V371.2M305.5 345.4h4.8M305.5 371.2h4.8" stroke="#00bfff" stroke-width="2.1" fill="none"/>
<circle cx="307.9" cy="357.9" r="3.8" fill="#00bfff"/>
<path d="M360.9 322.8V347.9M358.5 322.8h4.8M358.5 347.9h4.8" stroke="#00bfff" stroke-width="2.1" fill="none"/>
<circle cx="360.9" cy="335" r="3.8" fill="#00bfff"/>
<path d="M397.7 281V306.7M395.3 281h4.8M395.3 306.7h4.8" stroke="#00bfff" stroke-width="2.1" fill="none"/>
<circle cx="397.7" cy="293.5" r="3.8" fill="#00bfff"/>
<path d="M124.03 377.11L125.47 377.10L126.91 377.10L128.36 377.09L129.80 377.09L131.25 377.09L132.69 377.08L134.13 377.08L135.58 377.07L137.02 377.07L138.46 377.06L139.91 377.06L141.35 377.05L142.79 377.05L144.24 377.04L145.68 377.03L147.13 377.03L148.57 377.02L150.01 377.01L151.46 377.01L152.90 377.00L154.34 376.99L155.79 376.98L157.23 376.98L158.67 376.97L160.12 376.96L161.56 376.95L163.01 376.94L164.45 376.93L165.89 376.92L167.34 376.91L168.78 376.90L170.22 376.88L171.67 376.87L173.11 376.86L174.56 376.85L176.00 376.83L177.44 376.82L178.89 376.81L180.33 376.79L181.77 376.77L183.22 376.76L184.66 376.74L186.10 376.72L187.55 376.71L188.99 376.69L190.44 376.67L191.88 376.65L193.32 376.63L194.77 376.60L196.21 376.58L197.65 376.56L199.10 376.53L200.54 376.51L201.99 376.48L203.43 376.45L204.87 376.42L206.32 376.39L207.76 376.36L209.20 376.33L210.65 376.30L212.09 376.26L213.53 376.23L214.98 376.19L216.42 376.15L217.87 376.11L219.31 376.07L220.75 376.03L222.20 375.98L223.64 375.94L225.08 375.89L226.53 375.84L227.97 375.79L229.42 375.73L230.86 375.68L232.30 375.62L233.75 375.56L235.19 375.50L236.63 375.43L238.08 375.36L239.52 375.29L240.96 375.22L242.41 375.15L243.85 375.07L245.30 374.99L246.74 374.90L248.18 374.82L249.63 374.73L251.07 374.63L252.51 374.54L253.96 374.44L255.40 374.33L256.84 374.22L258.29 374.11L259.73 373.99L261.18 373.87L262.62 373.75L264.06 373.62L265.51 373.48L266.95 373.34L268.39 373.20L269.84 373.05L271.28 372.89L272.73 372.73L274.17 372.57L275.61 372.39L277.06 372.21L278.50 372.03L279.94 371.83L281.39 371.63L282.83 371.43L284.27 371.21L285.72 370.99L287.16 370.76L288.61 370.52L290.05 370.28L291.49 370.02L292.94 369.76L294.38 369.49L295.82 369.20L297.27 368.91L298.71 368.61L300.16 368.29L301.60 367.97L303.04 367.63L304.49 367.29L305.93 366.93L307.37 366.56L308.82 366.17L310.26 365.78L311.70 365.37L313.15 364.94L314.59 364.50L316.04 364.05L317.48 363.58L318.92 363.10L320.37 362.60L321.81 362.09L323.25 361.56L324.70 361.01L326.14 360.45L327.59 359.86L329.03 359.26L330.47 358.64L331.92 358.00L333.36 357.35L334.80 356.67L336.25 355.97L337.69 355.25L339.13 354.51L340.58 353.74L342.02 352.96L343.47 352.15L344.91 351.32L346.35 350.47L347.80 349.59L349.24 348.68L350.68 347.76L352.13 346.80L353.57 345.83L355.02 344.82L356.46 343.79L357.90 342.73L359.35 341.65L360.79 340.54L362.23 339.40L363.68 338.23L365.12 337.04L366.56 335.81L368.01 334.56L369.45 333.28L370.90 331.96L372.34 330.62L373.78 329.25L375.23 327.85L376.67 326.42L378.11 324.96L379.56 323.47L381.00 321.94L382.44 320.39L383.89 318.81L385.33 317.19L386.78 315.55L388.22 313.87L389.66 312.17L391.11 310.43L392.55 308.66L393.99 306.87L395.44 305.04L396.88 303.18L398.33 301.30L399.77 299.38L401.21 297.43L402.66 295.46L404.10 293.45L405.54 291.42L406.99 289.36L408.43 287.27L409.87 285.15L411.32 283.00L412.76 280.83" fill="none" stroke="#ff0000" stroke-width="3.6" stroke-dasharray="11.4 10.8"/>
<rect x="562.3" y="378.5" width="306.90" height="146.25" fill="#fff" stroke="#2e2e2e" stroke-width="1.2"/>
<path d="M581.9 485.4V501.9M577.1999999999999 485.4h9.4M577.1999999999999 501.9h9.4" stroke="#000" stroke-width="2.1" fill="none"/>
<circle cx="581.9" cy="493.6" r="3.8" fill="#000"/>
<path d="M661 453.9V470M656.3 453.9h9.4M656.3 470h9.4" stroke="#000" stroke-width="2.1" fill="none"/>
<circle cx="661" cy="461.8" r="3.8" fill="#000"/>
<path d="M692.1 441.4V457.8M687.4 441.4h9.4M687.4 457.8h9.4" stroke="#000" stroke-width="2.1" fill="none"/>
<circle cx="692.1" cy="449.6" r="3.8" fill="#000"/>
<path d="M719.6 431.3V447.5M714.9 431.3h9.4M714.9 447.5h9.4" stroke="#000" stroke-width="2.1" fill="none"/>
<circle cx="719.6" cy="439.2" r="3.8" fill="#000"/>
<path d="M744.3 421.7V437.4M739.5999999999999 421.7h9.4M739.5999999999999 437.4h9.4" stroke="#000" stroke-width="2.1" fill="none"/>
<circle cx="744.3" cy="429.2" r="3.8" fill="#000"/>
<path d="M766.9 413.8V429.6M762.1999999999999 413.8h9.4M762.1999999999999 429.6h9.4" stroke="#000" stroke-width="2.1" fill="none"/>
<circle cx="766.9" cy="421.7" r="3.8" fill="#000"/>
<path d="M787.3 405.6V421.7M782.5999999999999 405.6h9.4M782.5999999999999 421.7h9.4" stroke="#000" stroke-width="2.1" fill="none"/>
<circle cx="787.3" cy="413.5" r="3.8" fill="#000"/>
<path d="M823.8 396.6V412.4M819.0999999999999 396.6h9.4M819.0999999999999 412.4h9.4" stroke="#000" stroke-width="2.1" fill="none"/>
<circle cx="823.8" cy="404.5" r="3.8" fill="#000"/>
<path d="M854.6 387.7V403.8M849.9 387.7h9.4M849.9 403.8h9.4" stroke="#000" stroke-width="2.1" fill="none"/>
<circle cx="854.6" cy="395.9" r="3.8" fill="#000"/>
<path d="M624.4 468.2V483.2M619.6999999999999 468.2h9.4M619.6999999999999 483.2h9.4" stroke="#00bfff" stroke-width="2.1" fill="none"/>
<circle cx="624.4" cy="475.4" r="3.8" fill="#00bfff"/>
<path d="M692.1 441.4V453.9M687.4 441.4h9.4M687.4 453.9h9.4" stroke="#00bfff" stroke-width="2.1" fill="none"/>
<circle cx="692.1" cy="447.5" r="3.8" fill="#00bfff"/>
<path d="M766.9 414.5V428.8M762.1999999999999 414.5h9.4M762.1999999999999 428.8h9.4" stroke="#00bfff" stroke-width="2.1" fill="none"/>
<circle cx="766.9" cy="421.7" r="3.8" fill="#00bfff"/>
<path d="M805.9 402.7V415.6M801.1999999999999 402.7h9.4M801.1999999999999 415.6h9.4" stroke="#00bfff" stroke-width="2.1" fill="none"/>
<circle cx="805.9" cy="409.2" r="3.8" fill="#00bfff"/>
<path d="M854.6 392.3V405.2M849.9 392.3h9.4M849.9 405.2h9.4" stroke="#00bfff" stroke-width="2.1" fill="none"/>
<circle cx="854.6" cy="398.4" r="3.8" fill="#00bfff"/>
<path d="M562.90 503.54L564.41 502.88L565.93 502.21L567.44 501.54L568.95 500.88L570.47 500.22L571.98 499.55L573.49 498.89L575.01 498.23L576.52 497.56L578.03 496.90L579.55 496.24L581.06 495.58L582.57 494.92L584.09 494.26L585.60 493.60L587.11 492.94L588.63 492.28L590.14 491.62L591.65 490.96L593.17 490.31L594.68 489.65L596.19 488.99L597.71 488.34L599.22 487.68L600.73 487.03L602.25 486.38L603.76 485.72L605.27 485.07L606.79 484.42L608.30 483.77L609.81 483.12L611.33 482.47L612.84 481.82L614.35 481.17L615.87 480.52L617.38 479.87L618.89 479.22L620.40 478.58L621.92 477.93L623.43 477.29L624.94 476.64L626.46 476.00L627.97 475.35L629.48 474.71L631.00 474.07L632.51 473.43L634.02 472.79L635.54 472.15L637.05 471.51L638.56 470.87L640.08 470.24L641.59 469.60L643.10 468.96L644.62 468.33L646.13 467.69L647.64 467.06L649.16 466.43L650.67 465.80L652.18 465.16L653.70 464.53L655.21 463.90L656.72 463.28L658.24 462.65L659.75 462.02L661.26 461.40L662.78 460.77L664.29 460.15L665.80 459.52L667.32 458.90L668.83 458.28L670.34 457.66L671.86 457.04L673.37 456.42L674.88 455.80L676.40 455.18L677.91 454.57L679.42 453.95L680.94 453.34L682.45 452.73L683.96 452.11L685.48 451.50L686.99 450.89L688.50 450.28L690.02 449.68L691.53 449.07L693.04 448.46L694.55 447.86L696.07 447.25L697.58 446.65L699.09 446.05L700.61 445.45L702.12 444.85L703.63 444.25L705.15 443.66L706.66 443.06L708.17 442.46L709.69 441.87L711.20 441.28L712.71 440.69L714.23 440.10L715.74 439.51L717.25 438.92L718.77 438.34L720.28 437.75L721.79 437.17L723.31 436.58L724.82 436.00L726.33 435.42L727.85 434.84L729.36 434.27L730.87 433.69L732.39 433.12L733.90 432.54L735.41 431.97L736.93 431.40L738.44 430.83L739.95 430.26L741.47 429.70L742.98 429.13L744.49 428.57L746.01 428.01L747.52 427.45L749.03 426.89L750.55 426.33L752.06 425.77L753.57 425.22L755.09 424.67L756.60 424.11L758.11 423.56L759.63 423.01L761.14 422.47L762.65 421.92L764.17 421.38L765.68 420.84L767.19 420.29L768.70 419.76L770.22 419.22L771.73 418.68L773.24 418.15L774.76 417.61L776.27 417.08L777.78 416.55L779.30 416.03L780.81 415.50L782.32 414.98L783.84 414.45L785.35 413.93L786.86 413.41L788.38 412.90L789.89 412.38L791.40 411.87L792.92 411.36L794.43 410.85L795.94 410.34L797.46 409.83L798.97 409.33L800.48 408.82L802.00 408.32L803.51 407.82L805.02 407.33L806.54 406.83L808.05 406.34L809.56 405.84L811.08 405.35L812.59 404.87L814.10 404.38L815.62 403.90L817.13 403.41L818.64 402.93L820.16 402.46L821.67 401.98L823.18 401.51L824.70 401.03L826.21 400.56L827.72 400.10L829.24 399.63L830.75 399.17L832.26 398.70L833.78 398.24L835.29 397.79L836.80 397.33L838.31 396.88L839.83 396.42L841.34 395.97L842.85 395.53L844.37 395.08L845.88 394.64L847.39 394.20L848.91 393.76L850.42 393.32L851.93 392.88L853.45 392.45L854.96 392.02L856.47 391.59L857.99 391.17L859.50 390.74L861.01 390.32L862.53 389.90L864.04 389.48L865.55 389.07" fill="none" stroke="#ff0000" stroke-width="3.6" stroke-dasharray="11.4 10.8"/>
<rect x="128.5" y="26.9" width="393.15" height="170.50" fill="#fff" stroke="#262626" stroke-width="1.2"/>
<text x="193" y="56.5" class="se" font-size="27.9" fill="#000">Copper cube</text>
<text x="193" y="89.2" class="se" font-size="27.9" fill="#000">Copper cube (repeated)</text>
<text x="193" y="122.0" class="se" font-size="27.9" fill="#000">Fitting of copper cube</text>
<text x="193" y="154.8" class="se" font-size="27.9" fill="#000">Calculation of copper sphere</text>
<text x="193" y="187.6" class="se" font-size="27.9" fill="#000">Fused silica</text>
<circle cx="160.8" cy="46.3" r="5.3" fill="#000"/>
<circle cx="160.8" cy="79.0" r="5.3" fill="#00bfff"/>
<path d="M135.2 111.8H187.7" stroke="#ff0000" stroke-width="3.6" stroke-dasharray="11.2 11" fill="none"/>
<path d="M135.2 144.6H187.7" stroke="#00ff00" stroke-width="3.6" stroke-dasharray="11.2 2.9 5.2 2.9" fill="none"/>
<path d="M135.2 177.4H187.7" stroke="#0000ff" stroke-width="1.2" stroke-dasharray="13.8 8.4" fill="none"/>
<circle cx="160.8" cy="177.4" r="5.3" fill="#0000ff"/>
</svg>
</body></html>
